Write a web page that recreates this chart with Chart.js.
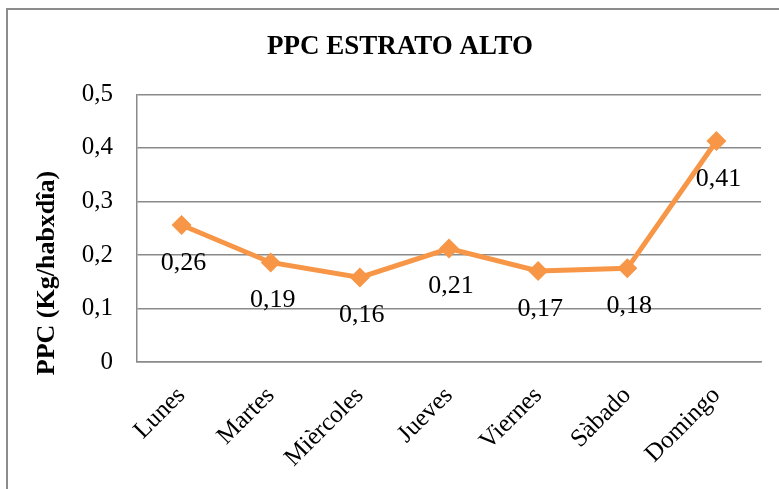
<!DOCTYPE html>
<html>
<head>
<meta charset="utf-8">
<script src="https://cdn.jsdelivr.net/npm/chart.js@4"></script>
<style>
  html,body{margin:0;padding:0;background:#fff;overflow:hidden}
  #frame{position:absolute;left:6px;top:8px;width:820px;height:520px;border:2px solid #8c8c8c;box-sizing:border-box}
  #wrap{position:absolute;left:0;top:0;width:779px;height:489px}
</style>
</head>
<body>
<div id="frame"></div>
<div id="wrap"><canvas id="c" width="779" height="489"></canvas></div>
<script>
/* PPC estrato alto — line chart */

var DAYS = ['Lunes','Martes','Mièrcoles','Jueves','Viernes','Sàbado','Domingo'];
var PPC = [0.256, 0.186, 0.158, 0.212, 0.170, 0.175, 0.413];
var PPC_LABELS = ['0,26','0,19','0,16','0,21','0,17','0,18','0,41'];
var Y_TICKS = ['0','0,1','0,2','0,3','0,4','0,5'];

var SERIF = "'Liberation Serif','Times New Roman',serif";
var C_LINE = '#f79646', C_GRID = '#8a8a8a';

// etiquetas de valor debajo de cada punto
var valueLabels = {
  id:'valueLabels',
  afterDatasetsDraw: function(chart){
    var ctx = chart.ctx;
    var pts = chart.getDatasetMeta(0).data;
    ctx.save();
    ctx.font = '26px ' + SERIF;
    ctx.fillStyle = '#000';
    ctx.textAlign = 'center';
    ctx.textBaseline = 'middle';
    pts.forEach(function(p, i){
      ctx.fillText(PPC_LABELS[i], p.x + 2, p.y + 38);
    });
    ctx.restore();
  }
};

// titulo del eje Y (desplazado hacia abajo como en el original)
var yTitle = {
  id:'yTitle',
  afterDraw: function(chart){
    var ctx = chart.ctx;
    ctx.save();
    ctx.translate(47, 273);
    ctx.rotate(-Math.PI/2);
    ctx.font = 'bold 26px ' + SERIF;
    ctx.fillStyle = '#000';
    ctx.textAlign = 'center';
    ctx.textBaseline = 'middle';
    ctx.fillText('PPC (Kg/habxdîa)', 0, 0);
    ctx.restore();
  }
};

new Chart(document.getElementById('c'), {
  type:'line',
  data:{
    labels: DAYS,
    datasets:[{
      data: PPC,
      borderColor: C_LINE,
      backgroundColor: C_LINE,
      borderWidth: 5,
      pointStyle: 'rectRot',
      pointRadius: 10,
      pointBorderWidth: 0,
      tension: 0
    }]
  },
  options:{
    responsive:false,
    animation:false,
    layout:{ padding:{ left:39, right:18, top:0, bottom:0 } },
    plugins:{
      legend:{display:false},
      tooltip:{enabled:false},
      title:{
        display:true,
        text:'PPC ESTRATO ALTO',
        color:'#000',
        font:{ family:SERIF, size:27, weight:'bold' },
        padding:{ top:31, bottom:31 }
      }
    },
    scales:{
      x:{
        offset:true,
        grid:{ display:false, drawTicks:false },
        border:{ display:true, color:C_GRID, width:1.5 },
        ticks:{ color:'#000', font:{family:SERIF, size:25}, minRotation:45, maxRotation:45, padding:19 },
        afterFit: function(s){ s.height = 489 - 362; }
      },
      y:{
        min:0, max:0.5,
        ticks:{ stepSize:0.1, color:'#000', font:{family:SERIF, size:25}, padding:24,
          callback:function(v, i){ return Y_TICKS[i]; } },
        grid:{ color:C_GRID, lineWidth:1.5, drawTicks:false },
        border:{ display:true, color:C_GRID, width:1.5 },
        afterFit: function(s){ s.width = 98; }
      }
    }
  },
  plugins:[valueLabels, yTitle]
});
</script>
</body>
</html>
